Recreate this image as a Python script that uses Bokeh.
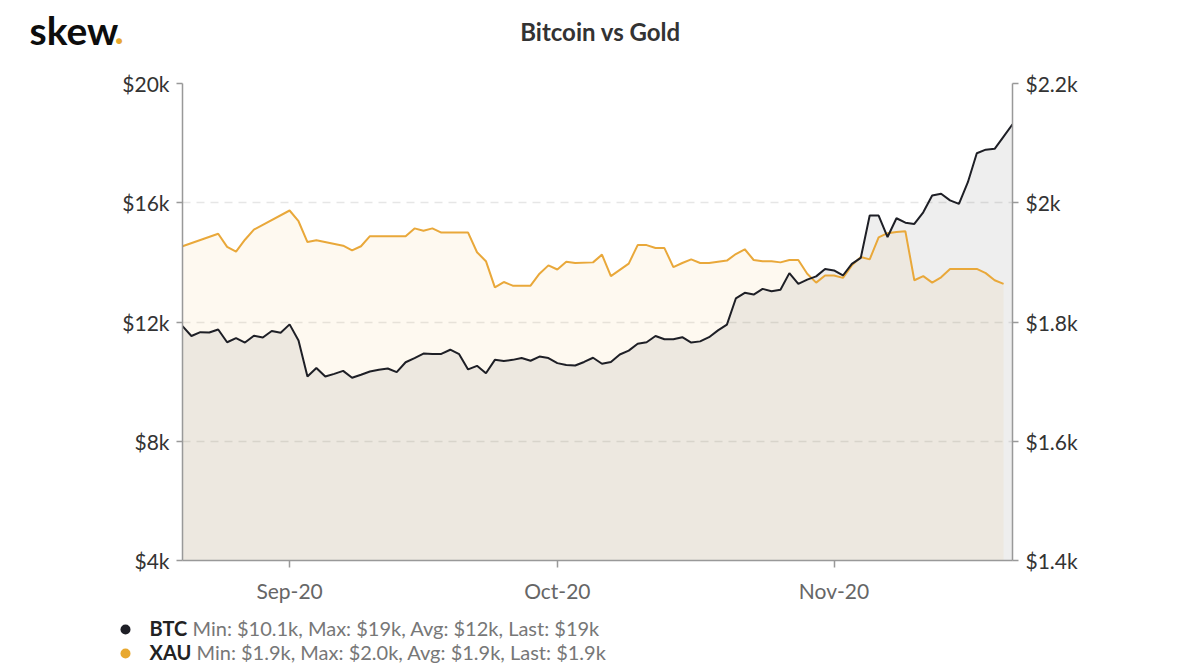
import pandas as pd
from bokeh.plotting import figure
from bokeh.layouts import column
from bokeh.models import (Range1d, LinearAxis, FixedTicker, CustomJSTickFormatter,
                          DatetimeTickFormatter, ColumnDataSource)
from bokeh.core.properties import value
from bokeh.embed import file_html
from bokeh.resources import INLINE

# ---------------- data (values in thousands of USD) ----------------
start_date = "2020-08-20"
btc = [11.86, 11.53, 11.66, 11.65, 11.75, 11.32, 11.46, 11.31, 11.54, 11.48,
       11.70, 11.64, 11.92, 11.38, 10.17, 10.46, 10.17, 10.26, 10.36, 10.13,
       10.23, 10.34, 10.40, 10.44, 10.32, 10.65, 10.79, 10.94, 10.93, 10.93,
       11.07, 10.92, 10.41, 10.53, 10.28, 10.73, 10.69, 10.73, 10.79, 10.70,
       10.84, 10.79, 10.62, 10.56, 10.54, 10.66, 10.80, 10.60, 10.66, 10.91,
       11.04, 11.27, 11.32, 11.53, 11.42, 11.42, 11.49, 11.31, 11.35, 11.49,
       11.72, 11.91, 12.79, 12.98, 12.92, 13.11, 13.03, 13.08, 13.64, 13.28,
       13.42, 13.53, 13.78, 13.73, 13.56, 13.95, 14.15, 15.57, 15.57, 14.85,
       15.48, 15.33, 15.29, 15.68, 16.24, 16.30, 16.08, 15.96, 16.69, 17.66,
       17.78, 17.81, 18.22, 18.63]

gold_day = [0, 4, 5, 6, 7, 8, 12, 13, 14, 15, 18, 19, 20, 21, 25, 26, 27, 28, 29,
            32, 33, 34, 35, 36, 37, 39, 40, 41, 42, 43, 44, 46, 47, 48, 50, 51, 52,
            53, 54, 55, 56, 57, 58, 59, 61, 62, 63, 64, 65, 66, 67, 68, 69, 70, 71,
            72, 73, 74, 75, 76, 77, 78, 79, 80, 81, 82, 83, 84, 85, 86, 89, 90, 91, 92]
gold = [1.927, 1.948, 1.926, 1.918, 1.938, 1.955, 1.987, 1.969, 1.934, 1.937,
        1.928, 1.920, 1.927, 1.944, 1.944, 1.957, 1.953, 1.957, 1.950, 1.950,
        1.917, 1.902, 1.858, 1.867, 1.861, 1.861, 1.881, 1.895, 1.888, 1.901,
        1.899, 1.900, 1.913, 1.877, 1.898, 1.929, 1.929, 1.924, 1.924, 1.892,
        1.899, 1.905, 1.899, 1.899, 1.903, 1.914, 1.922, 1.904, 1.902, 1.902,
        1.900, 1.904, 1.904, 1.881, 1.866, 1.878, 1.878, 1.874, 1.895, 1.909,
        1.905, 1.942, 1.949, 1.951, 1.952, 1.870, 1.877, 1.866, 1.875, 1.889,
        1.889, 1.882, 1.870, 1.864]

left_ticks = [4, 8, 12, 16, 20]
right_ticks = [1.4, 1.6, 1.8, 2.0, 2.2]
month_ticks = ["2020-09-01", "2020-10-01", "2020-11-01"]

title_text = "Bitcoin vs Gold"
legend_names = ["BTC", "XAU"]
legend_stats = ["Min: $10.1k, Max: $19k, Avg: $12k, Last: $19k",
                "Min: $1.9k, Max: $2.0k, Avg: $1.9k, Last: $1.9k"]
legend_colors = ["#1e1f26", "#e8a82f"]

LATO = value("Lato")
W = 1200
HEAD_H = 60
CHART_H = 552
LEG_H = 58


def text_panel(height, y0):
    """A blank figure whose data coordinates equal page pixels."""
    f = figure(width=W, height=height, x_range=Range1d(0, W),
               y_range=Range1d(y0 + height, y0), x_axis_type=None, y_axis_type=None,
               toolbar_location=None, output_backend="svg",
               min_border_left=0, min_border_right=0, min_border_top=0,
               min_border_bottom=0, outline_line_color=None)
    f.grid.visible = False
    f.background_fill_color = "white"
    f.border_fill_color = "white"
    return f


# ---------------- header ----------------
head = text_panel(HEAD_H, 0)
head.text(x=[29], y=[29], text=["skew"], text_font=LATO, text_font_size="39px",
          text_font_style="bold", text_color="#0d0d0d", text_baseline="alphabetic")
head.text(x=[114], y=[29], text=["."], text_font=LATO, text_font_size="39px",
          text_font_style="bold", text_color="#e8a82f", text_baseline="alphabetic")
head.text(x=[600], y=[31], text=[title_text], text_font=LATO, text_font_size="24px",
          text_font_style="bold", text_color="#333333", text_align="center",
          text_baseline="alphabetic")

# ---------------- chart ----------------
btc_dates = pd.date_range(start_date, periods=len(btc), freq="D")
gold_dates = pd.Timestamp(start_date) + pd.to_timedelta(gold_day, unit="D")
btc_src = ColumnDataSource(dict(x=btc_dates, y=btc, base=[left_ticks[0]] * len(btc)))
gold_src = ColumnDataSource(dict(x=gold_dates, y=gold, base=[right_ticks[0]] * len(gold)))

FRAME_L, FRAME_R, FRAME_T, FRAME_B = 182, 1012, 83, 560
p = figure(width=W, height=CHART_H, x_axis_type="datetime",
           x_range=Range1d(btc_dates[0], btc_dates[-1]),
           y_range=Range1d(left_ticks[0], left_ticks[-1]),
           toolbar_location=None, output_backend="svg",
           min_border_left=FRAME_L, min_border_right=W - FRAME_R,
           min_border_top=FRAME_T - HEAD_H,
           min_border_bottom=HEAD_H + CHART_H - FRAME_B)
p.extra_y_ranges = {"gold": Range1d(right_ticks[0], right_ticks[-1])}
p.outline_line_color = None
p.background_fill_color = "white"
p.border_fill_color = "white"

AX = "#999999"
p.xgrid.visible = False
p.ygrid.grid_line_color = "#e6e6e6"
p.ygrid.grid_line_dash = "8 6"
p.ygrid.grid_line_width = 1.5

ya = p.yaxis[0]
ya.ticker = FixedTicker(ticks=left_ticks)
ya.formatter = CustomJSTickFormatter(code="return '$' + tick + 'k'")
ra = LinearAxis(y_range_name="gold")
ra.ticker = FixedTicker(ticks=right_ticks)
ra.formatter = CustomJSTickFormatter(code="return '$' + (+tick.toFixed(1)) + 'k'")
p.add_layout(ra, "right")

for ax in (ya, ra):
    ax.axis_line_color = AX
    ax.axis_line_width = 1.5
    ax.major_tick_line_color = AX
    ax.major_tick_line_width = 1.5
    ax.major_tick_out = 6
    ax.major_tick_in = 0
    ax.minor_tick_line_color = None
    ax.major_label_text_font = "Lato"
    ax.major_label_text_font_size = "21px"
    ax.major_label_text_color = "#333333"
    ax.major_label_standoff = 7

xa = p.xaxis[0]
xa.ticker = FixedTicker(ticks=[pd.Timestamp(d).value / 1e6 for d in month_ticks])
xa.formatter = DatetimeTickFormatter(days="%b-%y", months="%b-%y", years="%b-%y")
xa.axis_line_color = AX
xa.axis_line_width = 1.5
xa.major_tick_line_color = AX
xa.major_tick_line_width = 1.5
xa.major_tick_out = 7
xa.major_tick_in = 0
xa.minor_tick_line_color = None
xa.major_label_text_font = "Lato"
xa.major_label_text_font_size = "21px"
xa.major_label_text_color = "#666666"
xa.major_label_standoff = 10

p.varea(x="x", y1="base", y2="y", source=gold_src, y_range_name="gold",
        fill_color="#f2b441", fill_alpha=0.08)
p.varea(x="x", y1="base", y2="y", source=btc_src,
        fill_color="#555555", fill_alpha=0.1)
p.line(x="x", y="y", source=gold_src, y_range_name="gold",
       line_color="#e9a83a", line_width=2)
p.line(x="x", y="y", source=btc_src, line_color="#1e1f26", line_width=2)

# ---------------- legend ----------------
LEG_Y0 = HEAD_H + CHART_H
leg = text_panel(LEG_H, LEG_Y0)
dot_y = [629, 653]
text_y = [627, 651]
leg.scatter(x=[125, 125], y=dot_y, size=10, color=legend_colors, line_color=None)
leg.text(x=[149, 149], y=text_y, text=legend_names, text_font=LATO,
         text_font_size="20px", text_font_style="bold", text_color="#222222",
         text_baseline="alphabetic")
leg.text(x=[192, 196], y=text_y, text=legend_stats, text_font=LATO,
         text_font_size="20px", text_color="#777777", text_baseline="alphabetic")

# nest the chart so its borders are not shared with the text panels
layout = column(head, column(p, spacing=0), leg, spacing=0)
open("out.html", "w").write(file_html(layout, INLINE))
